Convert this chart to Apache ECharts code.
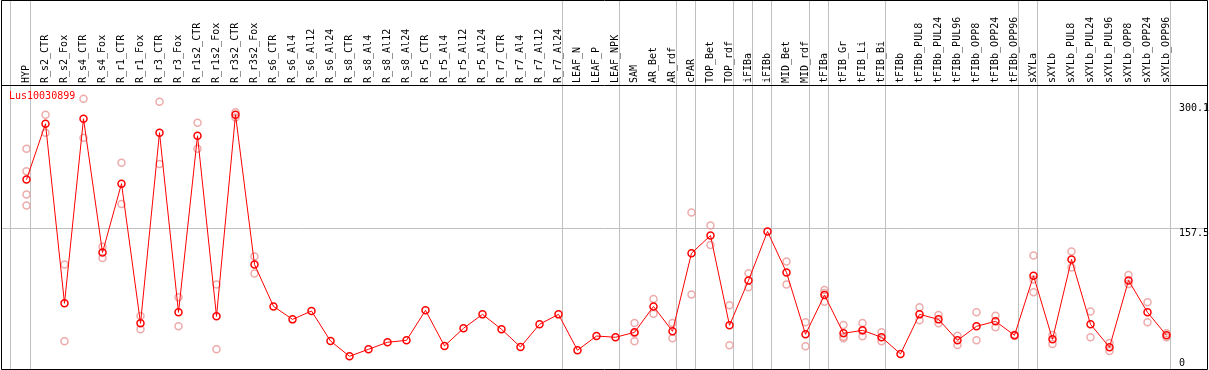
<!DOCTYPE html>
<html><head><meta charset="utf-8">
<script src="https://cdn.jsdelivr.net/npm/echarts@6/dist/echarts.min.js"></script>
<style>html,body{margin:0;padding:0;background:#fff}#c{width:1209px;height:370px}</style>
</head><body><div id="c"></div>
<script>
const seriesName = 'Lus10030899';
const categories = ['HYP','R_s2_CTR','R_s2_Fox','R_s4_CTR','R_s4_Fox','R_r1_CTR','R_r1_Fox','R_r3_CTR','R_r3_Fox','R_r1s2_CTR','R_r1s2_Fox','R_r3s2_CTR','R_r3s2_Fox','R_s6_CTR','R_s6_Al4','R_s6_Al12','R_s6_Al24','R_s8_CTR','R_s8_Al4','R_s8_Al12','R_s8_Al24','R_r5_CTR','R_r5_Al4','R_r5_Al12','R_r5_Al24','R_r7_CTR','R_r7_Al4','R_r7_Al12','R_r7_Al24','LEAF_N','LEAF_P','LEAF_NPK','SAM','AR_Bet','AR_rdf','cPAR','TOP_Bet','TOP_rdf','iFIBa','iFIBb','MID_Bet','MID_rdf','tFIBa','tFIB_Gr','tFIB_Li','tFIB_Bi','tFIBb','tFIBb_PUL8','tFIBb_PUL24','tFIBb_PUL96','tFIBb_OPP8','tFIBb_OPP24','tFIBb_OPP96','sXYLa','sXYLb','sXYLb_PUL8','sXYLb_PUL24','sXYLb_PUL96','sXYLb_OPP8','sXYLb_OPP24','sXYLb_OPP96'];
const means = [213.3,277.0,72.2,282.7,130.2,208.7,49.4,266.8,61.9,263.3,57.4,287.2,116.5,68.7,53.9,63.4,29.2,11.8,19.8,27.8,30.0,64.2,23.6,43.7,59.6,42.6,22.4,48.3,59.6,18.7,34.9,33.5,39.1,68.7,40.3,129.4,149.5,47.1,98.3,154.1,107.4,36.9,81.6,38.0,41.4,33.5,14.5,59.6,53.9,30.0,46.0,51.7,35.7,103.6,31.2,122.2,48.3,22.1,98.3,61.9,35.7];
const replicates = [
  [248.5,222.7,196.2,183.7],[287.2,266.8],[116.5,28.9],[305.4,261.1],[136.6,124.0],[232.6,185.5],[57.7,42.6],[302.0,231.0],[79.0,46.0],[278.1,248.5],[93.8,19.8],[290,284],[125.6,106.3],
  [],[],[],[],[],[],[],[],[],[],[],[],[],[],[],[],[],[],[],
  [49.7,38,28.9],[77.0,60.3],[49.7,32.3],[175.7,82.4],[160.9,138.8],[69.9,24.4],[106.6,90.4],[],[119.9,93.8],[50.5,23.2],[87.3,84,74.0],[47.5,34,32.3],[49.7,41,34.6],[39.1,28.9],[],
  [67.6,52.8],[58.8,49.4],[35.3,24.7],[61.9,30.0],[58.0,44.8],[36.5,35],[126.8,99.5,84.7],[36.1,25.8],[131.3,113.1],[63.0,33.5],[27.0,17.9],[104.4,94.1],[73.3,50.5],[38,33.5]
];
const yTickValues = [300.1, 157.5, 0];
const gridLineValues = [157.5];
const separatorsAfter = ['HYP','R_r7_Al24','LEAF_NPK','AR_rdf','cPAR','TOP_rdf','iFIBa','iFIBb','MID_rdf','tFIBa','tFIB_Bi','tFIBb_OPP96','sXYLa','sXYLb_OPP96'];

const FONT = '"DejaVu Sans Mono","Liberation Mono",monospace';
const chart = echarts.init(document.getElementById('c'), null, {renderer:'canvas'});
const repData = [];
replicates.forEach((arr,i)=>arr.forEach(v=>repData.push([i,v])));

chart.setOption({
  animation:false,
  title:{text:seriesName,left:9,top:91,padding:0,textStyle:{color:'#f00',fontFamily:FONT,fontSize:10,fontWeight:'normal'}},
  grid:{left:17,right:33,top:85,bottom:1},
  xAxis:{type:'category',data:categories,position:'top',boundaryGap:true,
    axisLine:{show:false},axisTick:{show:false},splitLine:{show:false},
    axisLabel:{interval:0,rotate:90,margin:2,color:'#000',fontFamily:FONT,fontSize:10}},
  yAxis:{type:'value',min:-2.7,max:321.2,show:false,splitLine:{show:false}},
  series:[
    {type:'scatter',data:repData,symbol:'circle',symbolSize:7,z:2,
      itemStyle:{color:'rgba(0,0,0,0)',borderColor:'#e89696',borderWidth:1.5}},
    {type:'line',name:seriesName,data:means,symbol:'circle',symbolSize:7,showAllSymbol:true,z:3,
      lineStyle:{color:'#f00',width:1},
      itemStyle:{color:'rgba(0,0,0,0)',borderColor:'#f00',borderWidth:1.5}}
  ]
});

const yPix = v => chart.convertToPixel({yAxisIndex:0}, v);
const xPix = c => chart.convertToPixel({xAxisIndex:0}, c);
const W = 1209, H = 370;
const g = [];
const grey = '#c0c0c0';
// vertical separators
const firstX = xPix(categories[0]);
g.push({type:'line',z:0,shape:{x1:Math.floor(firstX-16)+0.5,y1:0,x2:Math.floor(firstX-16)+0.5,y2:H},style:{stroke:grey,lineWidth:1}});
separatorsAfter.forEach(c=>{
  const x = Math.floor(xPix(c)+4)+0.5;
  g.push({type:'line',z:0,shape:{x1:x,y1:0,x2:x,y2:H},style:{stroke:grey,lineWidth:1}});
});
gridLineValues.forEach(v=>{
  const y = Math.floor(yPix(v))+0.5;
  g.push({type:'line',z:0,shape:{x1:1,y1:y,x2:1208,y2:y},style:{stroke:grey,lineWidth:1}});
});
// frame and header line
g.push({type:'rect',z:10,shape:{x:1.5,y:0.5,width:1206,height:369},style:{fill:null,stroke:'#000',lineWidth:1}});
g.push({type:'line',z:10,shape:{x1:1,y1:85.5,x2:1208,y2:85.5},style:{stroke:'#000',lineWidth:1}});
// y tick labels
yTickValues.forEach(v=>{
  let y = Math.floor(yPix(v));
  if (y > H - 12) y = H - 12;
  g.push({type:'text',z:10,x:1179,y:y,style:{text:String(v),fill:'#000',font:'10px '+FONT,textVerticalAlign:'top',verticalAlign:'top'}});
});
chart.setOption({graphic:g});
</script>
</body></html>
